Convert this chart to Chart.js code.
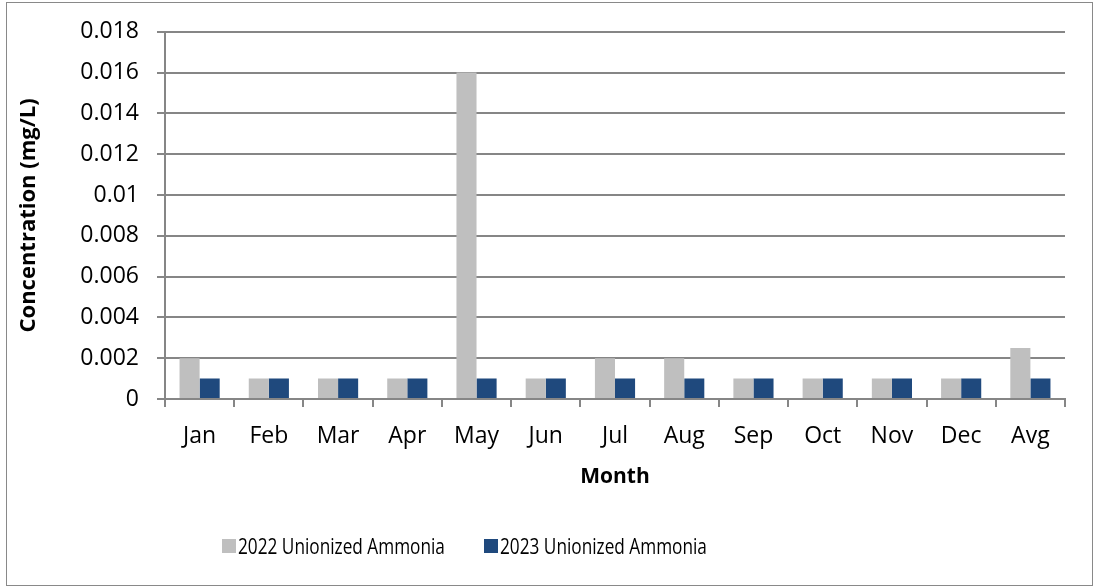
<!DOCTYPE html>
<html><head><meta charset="utf-8">
<script src="https://cdn.jsdelivr.net/npm/chart.js@4/dist/chart.umd.min.js"></script>
<style>
html,body{margin:0;padding:0;background:#fff;}
#wrap{position:absolute;left:0;top:0;width:1095px;height:587px;}
#frame{position:absolute;left:6px;top:2px;width:1087px;height:584px;border:1px solid #898989;box-sizing:border-box;pointer-events:none;}
#legend{position:absolute;left:0;top:531px;width:1095px;height:30px;font-family:"Open Sans",sans-serif;font-size:21px;color:#000;}
.item{position:absolute;top:0;height:30px;line-height:30px;white-space:nowrap;}
.box{position:absolute;top:8px;width:14px;height:14px;}
.txt{position:absolute;top:0;transform:scaleX(0.82);transform-origin:0 50%;}
</style></head>
<body>
<div id="wrap"><canvas id="c" width="1095" height="587"></canvas><div id="frame"></div><div id="legend"></div></div>
<script>
const categories = ['Jan','Feb','Mar','Apr','May','Jun','Jul','Aug','Sep','Oct','Nov','Dec','Avg'];
const series2022 = [0.002,0.001,0.001,0.001,0.016,0.001,0.002,0.002,0.001,0.001,0.001,0.001,0.0025];
const series2023 = [0.001,0.001,0.001,0.001,0.001,0.001,0.001,0.001,0.001,0.001,0.001,0.001,0.001];
const seriesNames = ['2022 Unionized Ammonia','2023 Unionized Ammonia'];
const seriesColors = ['#BFBFBF','#1F497D'];
const yMax = 0.018, yStep = 0.002;

const FONT = '"Open Sans", sans-serif';
Chart.defaults.font.family = FONT;
Chart.defaults.color = '#000';

const chart = new Chart(document.getElementById('c'), {
  type: 'bar',
  data: {
    labels: categories,
    datasets: [
      {label: seriesNames[0], data: series2022, backgroundColor: seriesColors[0], categoryPercentage: 0.58, barPercentage: 1.0},
      {label: seriesNames[1], data: series2023, backgroundColor: seriesColors[1], categoryPercentage: 0.58, barPercentage: 1.0}
    ]
  },
  options: {
    responsive: false,
    animation: false,
    layout: {padding: {top: 31, right: 30, left: 0, bottom: 0}},
    plugins: {
      legend: {display: false},
      tooltip: {enabled: false}
    },
    scales: {
      x: {
        grid: {drawOnChartArea: false, color: '#868686', lineWidth: 2, tickLength: 8, offset: true},
        border: {color: '#868686', width: 2},
        ticks: {font: {size: 23}, padding: 16, color: '#000'},
        title: {display: true, text: 'Month', font: {size: 21, weight: 'bold'}, color: '#000', padding: {top: 0, bottom: 97}},
        afterFit: (s) => { s.height = 188; }
      },
      y: {
        min: 0, max: yMax,
        grid: {color: '#868686', lineWidth: 2, tickLength: 8},
        border: {color: '#868686', width: 2},
        ticks: {stepSize: yStep, font: {size: 23}, padding: 18, color: '#000',
          callback: (v) => String(Number(v.toFixed(4)))},
        title: {display: true, text: 'Concentration (mg/L)', font: {size: 22, weight: 'bold'}, color: '#000', padding: {top: 16, bottom: 0}},
        afterFit: (s) => { s.width = 165; }
      }
    }
  }
});

// HTML legend built from the dataset names/colours
const lg = document.getElementById('legend');
const lefts = [222, 484];
seriesNames.forEach((n, i) => {
  const d = document.createElement('div');
  d.className = 'item';
  d.style.left = lefts[i] + 'px';
  d.innerHTML = '<span class="box" style="left:0;background:' + seriesColors[i] + '"></span><span class="txt" style="left:16px">' + n + '</span>';
  lg.appendChild(d);
});
</script>
</body></html>
